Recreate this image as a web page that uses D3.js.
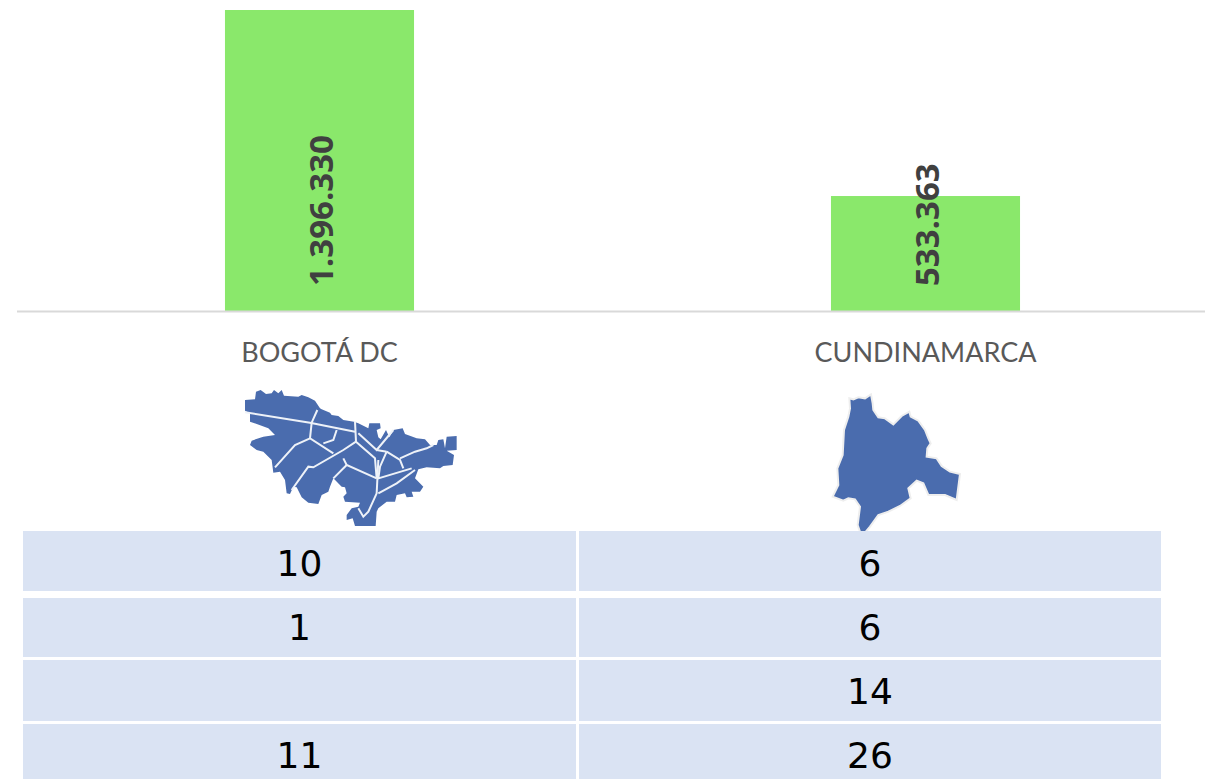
<!DOCTYPE html>
<html>
<meta charset="utf-8">

<script src="https://cdn.jsdelivr.net/npm/d3@7/dist/d3.min.js"></script>

<style>

  body, html {
    padding: 0;
    margin: 0;
    height: 100%;
    width: 100%;
    background: #fff;
    overflow: hidden;
  }

  svg {
    display: block;
    width: 1205px;
    height: 779px;
  }

</style>

<body>
  <svg></svg>

  <script>

    var regions = ['BOGOTÁ DC', 'CUNDINAMARCA'],
        totals = [1396330, 533363],
        totalLabels = ['1.396.330', '533.363'];

    // table rows, one value per region, '' where the cell is empty
    var tableBogota = ['10', '1', '', '11'],
        tableCundinamarca = ['6', '6', '14', '26'];

    // map outlines, at 3 units per pixel
    var bogotaOutline = [[45,60],[75,58],[78,35],[92,30],[108,42],[125,40],[132,30],[145,40],[155,30],[162,47],[205,50],[215,45],[235,52],[255,62],[270,85],[275,88],[300,98],[305,105],[325,108],[340,120],[372,125],[385,130],[415,145],[418,130],[450,130],[452,145],[440,150],[445,172],[452,178],[468,150],[478,172],[490,150],[518,145],[525,162],[560,175],[585,178],[600,195],[620,195],[625,180],[640,178],[645,205],[650,170],[680,168],[680,210],[650,212],[672,225],[668,255],[640,258],[630,265],[590,262],[565,268],[555,295],[580,320],[570,335],[545,335],[550,350],[530,352],[525,340],[500,345],[495,365],[470,365],[445,385],[440,395],[437,438],[375,438],[368,415],[350,420],[350,405],[365,385],[385,380],[390,368],[345,365],[340,350],[350,340],[345,322],[335,320],[310,295],[300,320],[295,335],[275,345],[265,372],[235,368],[215,352],[200,322],[190,320],[180,342],[170,340],[165,300],[150,275],[130,278],[125,240],[100,215],[80,210],[60,195],[65,182],[100,170],[135,165],[115,145],[60,125],[60,100],[45,92]];

    var bogotaBorders = [
      [[45,97],[240,128],[375,155]],
      [[262,90],[245,128],[240,175],[310,220]],
      [[240,175],[195,195],[135,262]],
      [[320,150],[310,180],[280,190]],
      [[375,125],[378,185],[435,235],[440,295]],
      [[378,185],[340,210],[250,262],[235,260],[185,330]],
      [[385,160],[440,210],[490,150]],
      [[340,235],[350,255],[440,295]],
      [[350,255],[310,295]],
      [[445,240],[440,340],[415,395],[400,410],[385,385]],
      [[470,215],[450,260],[445,295],[545,265]],
      [[445,340],[500,310],[555,270]],
      [[470,215],[510,240],[520,265]],
      [[510,235],[555,215],[590,205],[610,195]],
      [[440,210],[470,215]]
    ];

    var cundinamarcaOutline = [[118,55],[130,58],[145,52],[165,55],[183,43],[188,70],[190,90],[205,112],[225,115],[250,133],[275,108],[298,95],[302,110],[325,122],[345,150],[355,175],[362,190],[352,205],[350,230],[380,235],[395,258],[420,275],[450,282],[440,360],[405,345],[355,345],[340,310],[320,302],[295,325],[302,355],[270,378],[235,395],[205,405],[180,440],[155,470],[143,435],[150,380],[135,358],[115,355],[100,362],[68,350],[85,315],[82,265],[98,225],[102,150],[115,110],[120,85]];

    var svg = d3.select('svg').attr('viewBox', '0 0 1205 779');

    var x = d3.scaleBand().domain(regions).range([16.5, 1228.5]).paddingInner(0.688).paddingOuter(0.344),
        y = d3.scaleLinear().domain([0, 1396330]).range([311, 10]);

    svg.selectAll('rect.bar')
      .data(totals)
      .enter().append('rect')
        .attr('class', 'bar')
        .attr('x', function (d, i) { return x(regions[i]); })
        .attr('y', function (d) { return y(d); })
        .attr('width', x.bandwidth())
        .attr('height', function (d) { return y(0) - y(d); })
        .attr('fill', '#8ae86b');

    var xAxis = svg.append('g')
      .attr('transform', 'translate(0,' + y(0) + ')')
      .call(d3.axisBottom(x).tickSize(0).tickPadding(32));

    xAxis.select('.domain').attr('stroke', '#d9d9d9').attr('stroke-width', 2);
    xAxis.selectAll('text')
      .attr('font-family', 'Lato, "Open Sans", sans-serif')
      .attr('font-size', 27)
      .attr('fill', '#595959');

    svg.selectAll('text.total')
      .data(totalLabels)
      .enter().append('text')
        .attr('class', 'total')
        .attr('transform', function (d, i) {
          return 'translate(' + (x(regions[i]) + x.bandwidth() / 2 + 13) + ',286) rotate(-90)';
        })
        .attr('font-family', '"Open Sans", sans-serif')
        .attr('font-weight', 700)
        .attr('font-size', 33)
        .attr('fill', '#404040')
        .text(function (d) { return d; });

    // maps
    var borderLine = d3.line(),
        outlineLine = d3.line().curve(d3.curveLinearClosed);

    function project(points, x0, y0) {
      var px = d3.scaleLinear().domain([0, 3]).range([x0, x0 + 1]),
          py = d3.scaleLinear().domain([0, 3]).range([y0, y0 + 1]);
      return points.map(function (p) { return [px(p[0]), py(p[1])]; });
    }

    svg.append('path')
      .attr('d', outlineLine(project(bogotaOutline, 230, 380)))
      .attr('fill', '#4a6cae');

    svg.selectAll('path.border')
      .data(bogotaBorders)
      .enter().append('path')
        .attr('class', 'border')
        .attr('d', function (d) { return borderLine(project(d, 230, 380)); })
        .attr('fill', 'none')
        .attr('stroke', '#eef2f8')
        .attr('stroke-width', 2);

    svg.append('path')
      .attr('d', outlineLine(project(cundinamarcaOutline, 810, 380)))
      .attr('fill', '#4a6cae')
      .attr('stroke', '#eeeeee')
      .attr('stroke-width', 2);

    // table
    var rowTops = [531, 598, 660, 724],
        rowBottoms = [591, 657, 721, 779],
        rowBaselines = [576, 640, 704, 768],
        colLefts = [23, 579],
        colRights = [576, 1161],
        columns = [tableBogota, tableCundinamarca];

    columns.forEach(function (col, c) {
      var cells = svg.append('g').selectAll('g')
        .data(col)
        .enter().append('g');

      cells.append('rect')
        .attr('x', colLefts[c])
        .attr('y', function (d, r) { return rowTops[r]; })
        .attr('width', colRights[c] - colLefts[c])
        .attr('height', function (d, r) { return rowBottoms[r] - rowTops[r]; })
        .attr('fill', '#dae3f3');

      cells.append('text')
        .attr('x', c === 0 ? 299.5 : 870)
        .attr('y', function (d, r) { return rowBaselines[r]; })
        .attr('text-anchor', 'middle')
        .attr('font-family', '"DejaVu Sans", sans-serif')
        .attr('font-size', 36)
        .attr('fill', '#000')
        .text(function (d) { return d; });
    });

  </script>
</body>
</html>
